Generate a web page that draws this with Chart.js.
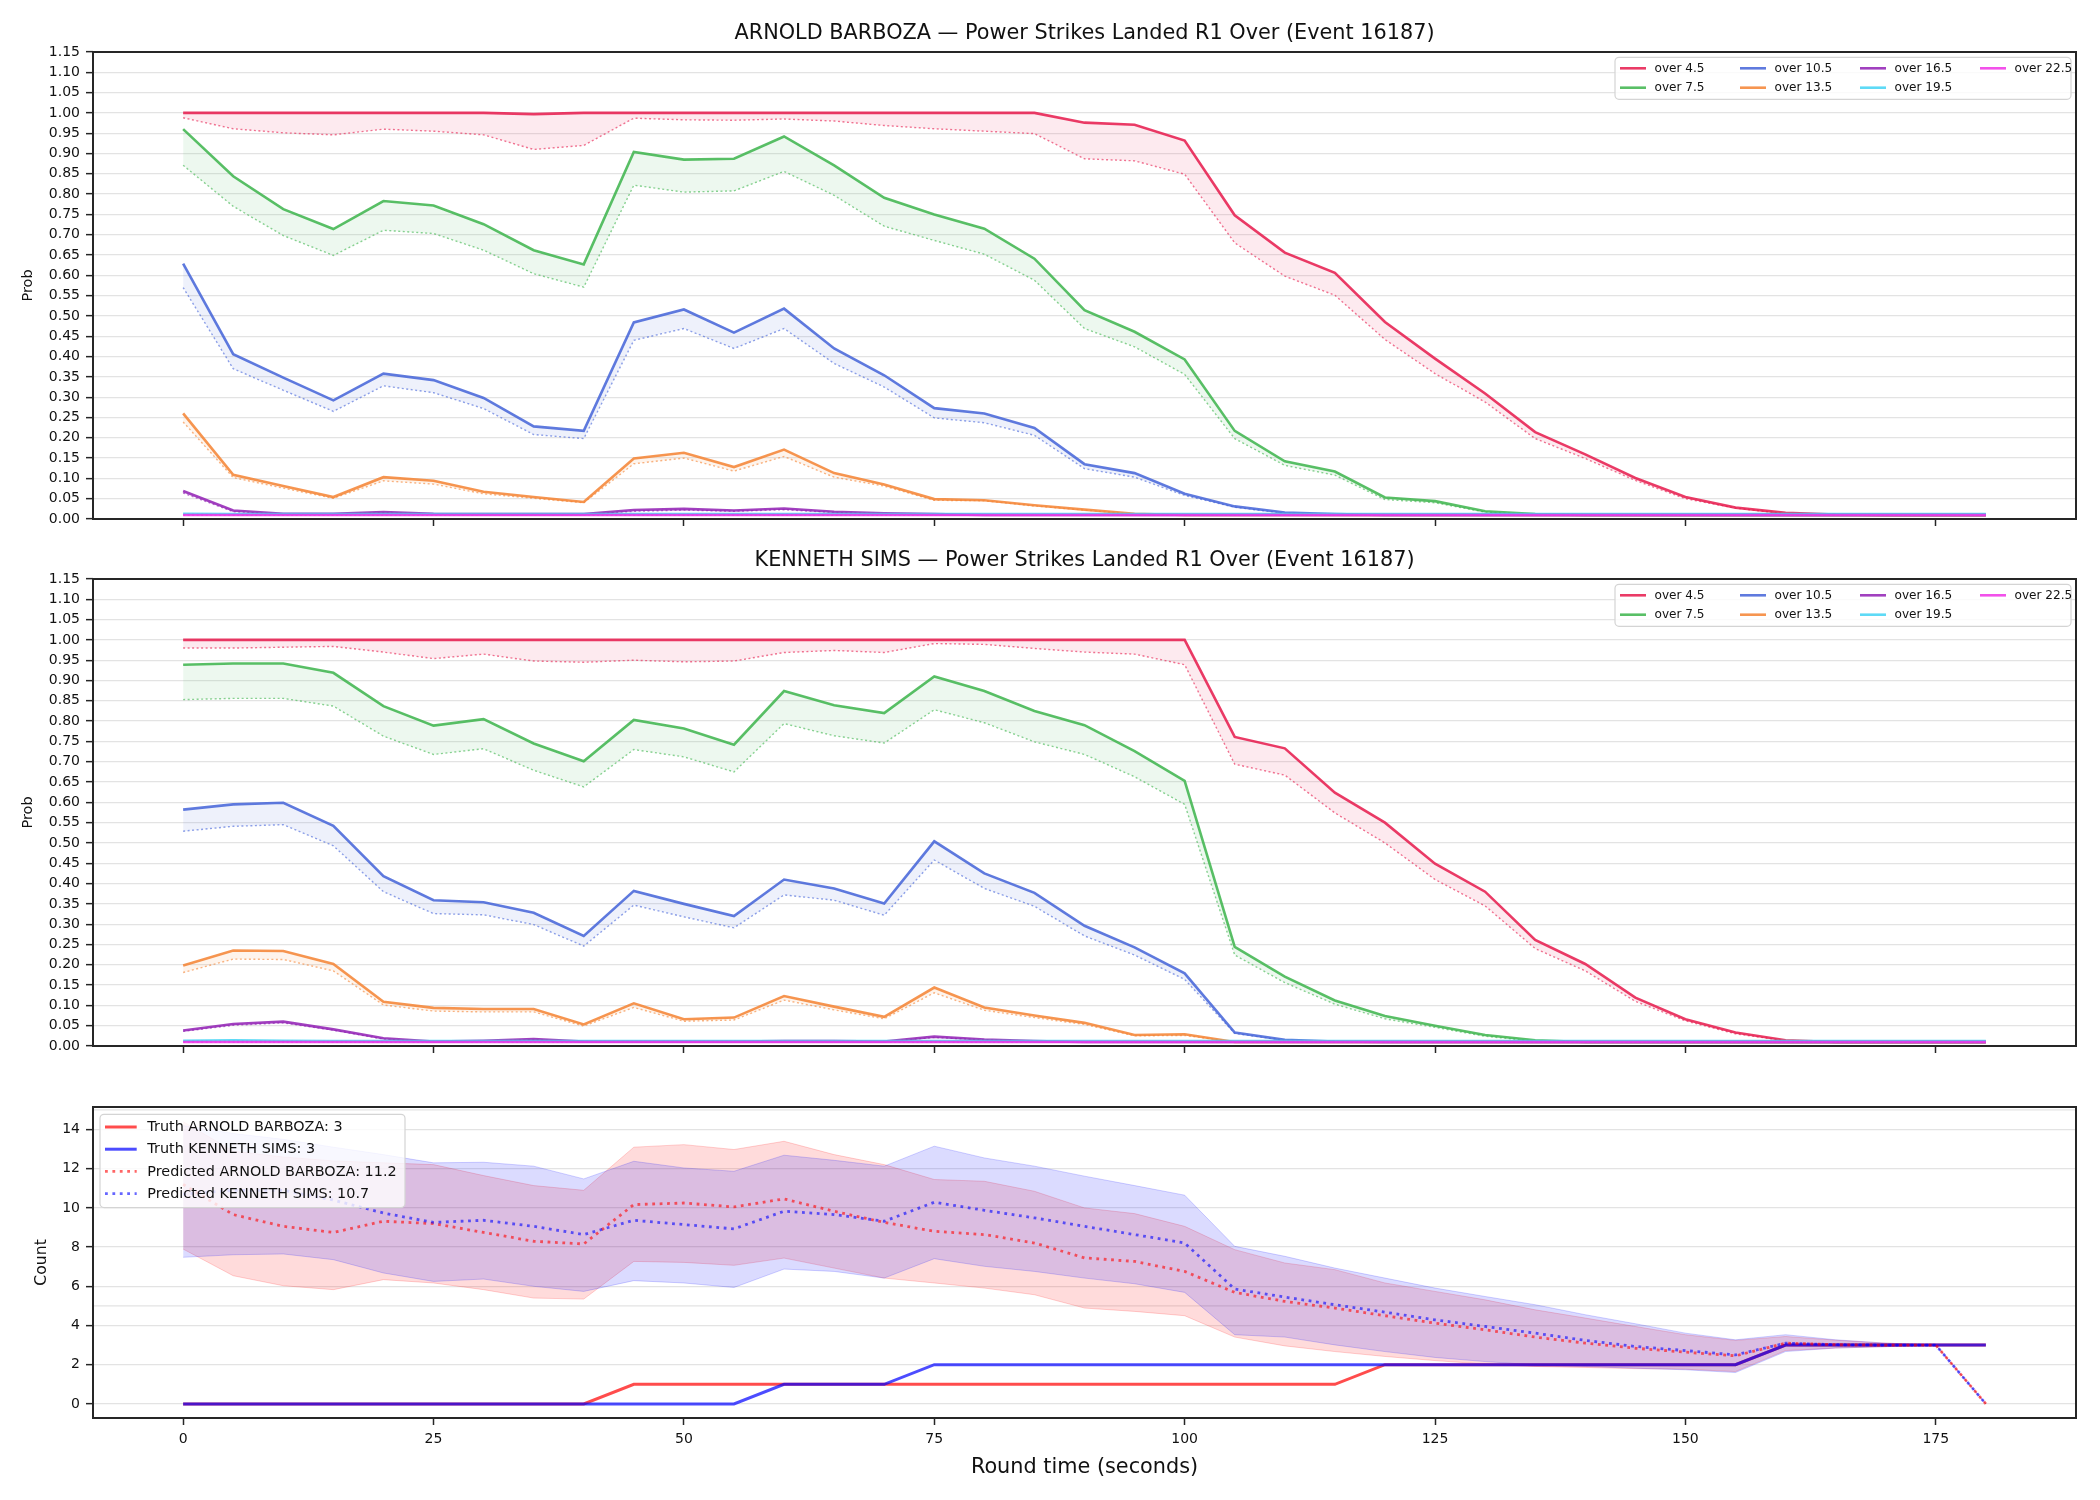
<!DOCTYPE html>
<html>
<head>
<meta charset="utf-8">
<script src="https://cdn.jsdelivr.net/npm/chart.js@4.4.1/dist/chart.umd.min.js"></script>
<style>
  body { margin: 0; background: #fff; }
  #wrap { position: relative; width: 2100px; height: 1500px; }
  canvas { position: absolute; left: 0; }
</style>
</head>
<body>
<div id="wrap">
  <canvas id="c1" width="2100" height="540" style="top:0px"></canvas>
  <canvas id="c2" width="2100" height="550" style="top:540px"></canvas>
  <canvas id="c3" width="2100" height="410" style="top:1090px"></canvas>
</div>
<script>
/* ---------------- DATA ---------------- */
const times = [0, 5, 10, 15, 20, 25, 30, 35, 40, 45, 50, 55, 60, 65, 70, 75, 80, 85, 90,
  95, 100, 105, 110, 115, 120, 125, 130, 135, 140, 145, 150, 155, 160, 165, 170, 175, 180];
const xTicks = [0, 25, 50, 75, 100, 125, 150, 175];
const probTicks = [0, 0.05, 0.10, 0.15, 0.20, 0.25, 0.30, 0.35, 0.40, 0.45, 0.50, 0.55,
  0.60, 0.65, 0.70, 0.75, 0.80, 0.85, 0.90, 0.95, 1.00, 1.05, 1.10, 1.15];
const countTicks = [0, 2, 4, 6, 8, 10, 12, 14];

const thresholds = ["over 4.5", "over 7.5", "over 10.5", "over 13.5", "over 16.5", "over 19.5", "over 22.5"];
const lineColors = ["#e6194b", "#3cb44b", "#4363d8", "#f58231", "#911eb4", "#42d4f4", "#f032e6"];

// ARNOLD BARBOZA - solid (market) and dotted (model)
const a45  = [1.00, 1.00, 1.00, 1.00, 1.00, 1.00, 1.00, 0.997, 1.00, 1.00, 1.00, 1.00, 1.00, 1.00, 1.00, 1.00, 1.00, 1.00, 0.976, 0.971, 0.932, 0.748, 0.656, 0.606, 0.485, 0.395, 0.309, 0.214, 0.159, 0.101, 0.054, 0.028, 0.015, 0.011, 0.01, 0.01, 0.01];
const a45p = [0.988, 0.961, 0.951, 0.946, 0.960, 0.955, 0.946, 0.910, 0.920, 0.987, 0.983, 0.982, 0.985, 0.980, 0.969, 0.961, 0.955, 0.949, 0.887, 0.882, 0.849, 0.680, 0.598, 0.551, 0.442, 0.358, 0.288, 0.198, 0.149, 0.095, 0.050, 0.027, 0.013, 0.01, 0.01, 0.01, 0.01];
const a75  = [0.960, 0.844, 0.763, 0.714, 0.783, 0.772, 0.726, 0.662, 0.627, 0.904, 0.885, 0.887, 0.942, 0.871, 0.791, 0.750, 0.715, 0.641, 0.514, 0.461, 0.393, 0.217, 0.142, 0.117, 0.053, 0.044, 0.019, 0.012, 0.01, 0.01, 0.01, 0.01, 0.01, 0.01, 0.01, 0.01, 0.01];
const a75p = [0.871, 0.770, 0.698, 0.649, 0.711, 0.703, 0.662, 0.604, 0.571, 0.822, 0.805, 0.808, 0.856, 0.797, 0.721, 0.686, 0.652, 0.588, 0.469, 0.424, 0.356, 0.198, 0.132, 0.108, 0.048, 0.040, 0.017, 0.011, 0.01, 0.01, 0.01, 0.01, 0.01, 0.01, 0.01, 0.01, 0.01];
const a105  = [0.629, 0.406, 0.348, 0.292, 0.358, 0.342, 0.298, 0.228, 0.217, 0.484, 0.516, 0.459, 0.518, 0.420, 0.354, 0.273, 0.260, 0.224, 0.135, 0.113, 0.062, 0.031, 0.016, 0.012, 0.01, 0.01, 0.01, 0.01, 0.01, 0.01, 0.01, 0.01, 0.01, 0.01, 0.01, 0.01, 0.01];
const a105p = [0.570, 0.370, 0.317, 0.265, 0.328, 0.311, 0.272, 0.208, 0.198, 0.440, 0.469, 0.420, 0.469, 0.383, 0.325, 0.249, 0.237, 0.206, 0.124, 0.103, 0.058, 0.029, 0.014, 0.011, 0.01, 0.01, 0.01, 0.01, 0.01, 0.01, 0.01, 0.01, 0.01, 0.01, 0.01, 0.01, 0.01];
const a135  = [0.260, 0.109, 0.081, 0.054, 0.103, 0.094, 0.067, 0.054, 0.042, 0.149, 0.163, 0.128, 0.171, 0.113, 0.085, 0.049, 0.046, 0.034, 0.023, 0.013, 0.01, 0.01, 0.01, 0.01, 0.01, 0.01, 0.01, 0.01, 0.01, 0.01, 0.01, 0.01, 0.01, 0.01, 0.01, 0.01, 0.01];
const a135p = [0.239, 0.102, 0.076, 0.051, 0.094, 0.086, 0.062, 0.051, 0.040, 0.136, 0.150, 0.118, 0.154, 0.103, 0.081, 0.046, 0.045, 0.032, 0.022, 0.012, 0.01, 0.01, 0.01, 0.01, 0.01, 0.01, 0.01, 0.01, 0.01, 0.01, 0.01, 0.01, 0.01, 0.01, 0.01, 0.01, 0.01];
const a165  = [0.069, 0.021, 0.013, 0.013, 0.017, 0.013, 0.012, 0.012, 0.012, 0.022, 0.025, 0.021, 0.026, 0.018, 0.014, 0.012, 0.01, 0.01, 0.01, 0.01, 0.01, 0.01, 0.01, 0.01, 0.01, 0.01, 0.01, 0.01, 0.01, 0.01, 0.01, 0.01, 0.01, 0.01, 0.01, 0.01, 0.01];
const a165p = [0.064, 0.018, 0.012, 0.012, 0.015, 0.012, 0.011, 0.011, 0.011, 0.019, 0.022, 0.019, 0.023, 0.016, 0.013, 0.011, 0.01, 0.01, 0.01, 0.01, 0.01, 0.01, 0.01, 0.01, 0.01, 0.01, 0.01, 0.01, 0.01, 0.01, 0.01, 0.01, 0.01, 0.01, 0.01, 0.01, 0.01];
const a195  = [0.013, 0.012, 0.012, 0.012, 0.012, 0.012, 0.012, 0.012, 0.012, 0.012, 0.012, 0.012, 0.012, 0.012, 0.012, 0.012, 0.012, 0.012, 0.012, 0.012, 0.012, 0.012, 0.012, 0.012, 0.012, 0.012, 0.012, 0.012, 0.012, 0.012, 0.012, 0.012, 0.012, 0.012, 0.012, 0.012, 0.012];
const a195p = [0.012, 0.011, 0.011, 0.011, 0.011, 0.011, 0.011, 0.011, 0.011, 0.011, 0.011, 0.011, 0.011, 0.011, 0.011, 0.011, 0.011, 0.011, 0.011, 0.011, 0.011, 0.011, 0.011, 0.011, 0.011, 0.011, 0.011, 0.011, 0.011, 0.011, 0.011, 0.011, 0.011, 0.011, 0.011, 0.011, 0.011];
const a225  = [0.01, 0.01, 0.01, 0.01, 0.01, 0.01, 0.01, 0.01, 0.01, 0.01, 0.01, 0.01, 0.01, 0.01, 0.01, 0.01, 0.01, 0.01, 0.01, 0.01, 0.01, 0.01, 0.01, 0.01, 0.01, 0.01, 0.01, 0.01, 0.01, 0.01, 0.01, 0.01, 0.01, 0.01, 0.01, 0.01, 0.01];
const a225p = [0.009, 0.009, 0.009, 0.009, 0.009, 0.009, 0.009, 0.009, 0.009, 0.009, 0.009, 0.009, 0.009, 0.009, 0.009, 0.009, 0.009, 0.009, 0.009, 0.009, 0.009, 0.009, 0.009, 0.009, 0.009, 0.009, 0.009, 0.009, 0.009, 0.009, 0.009, 0.009, 0.009, 0.009, 0.009, 0.009, 0.009];

// KENNETH SIMS
const k45  = [1.00, 1.00, 1.00, 1.00, 1.00, 1.00, 1.00, 1.00, 1.00, 1.00, 1.00, 1.00, 1.00, 1.00, 1.00, 1.00, 1.00, 1.00, 1.00, 1.00, 1.00, 0.761, 0.733, 0.624, 0.550, 0.449, 0.380, 0.261, 0.202, 0.119, 0.066, 0.033, 0.014, 0.01, 0.01, 0.01, 0.01];
const k45p = [0.980, 0.980, 0.982, 0.984, 0.970, 0.954, 0.965, 0.948, 0.945, 0.950, 0.946, 0.948, 0.969, 0.974, 0.969, 0.991, 0.989, 0.979, 0.970, 0.965, 0.939, 0.694, 0.667, 0.574, 0.500, 0.410, 0.345, 0.240, 0.185, 0.110, 0.062, 0.030, 0.013, 0.01, 0.01, 0.01, 0.01];
const k75  = [0.939, 0.942, 0.942, 0.919, 0.837, 0.789, 0.805, 0.745, 0.701, 0.803, 0.782, 0.742, 0.874, 0.839, 0.820, 0.910, 0.874, 0.825, 0.790, 0.726, 0.653, 0.244, 0.171, 0.112, 0.074, 0.050, 0.027, 0.014, 0.01, 0.01, 0.01, 0.01, 0.01, 0.01, 0.01, 0.01, 0.01];
const k75p = [0.853, 0.856, 0.856, 0.837, 0.763, 0.718, 0.732, 0.679, 0.638, 0.730, 0.712, 0.675, 0.794, 0.764, 0.746, 0.828, 0.796, 0.749, 0.718, 0.663, 0.595, 0.224, 0.156, 0.103, 0.067, 0.046, 0.024, 0.012, 0.01, 0.01, 0.01, 0.01, 0.01, 0.01, 0.01, 0.01, 0.01];
const k105  = [0.582, 0.595, 0.599, 0.542, 0.418, 0.359, 0.354, 0.328, 0.271, 0.382, 0.350, 0.320, 0.410, 0.388, 0.351, 0.504, 0.425, 0.377, 0.296, 0.243, 0.179, 0.033, 0.015, 0.011, 0.01, 0.01, 0.01, 0.01, 0.01, 0.01, 0.01, 0.01, 0.01, 0.01, 0.01, 0.01, 0.01];
const k105p = [0.529, 0.541, 0.545, 0.493, 0.380, 0.326, 0.323, 0.299, 0.246, 0.347, 0.318, 0.291, 0.372, 0.359, 0.322, 0.458, 0.388, 0.344, 0.271, 0.224, 0.164, 0.031, 0.014, 0.011, 0.01, 0.01, 0.01, 0.01, 0.01, 0.01, 0.01, 0.01, 0.01, 0.01, 0.01, 0.01, 0.01];
const k135  = [0.198, 0.235, 0.234, 0.202, 0.109, 0.094, 0.091, 0.091, 0.053, 0.105, 0.066, 0.070, 0.123, 0.097, 0.072, 0.144, 0.095, 0.075, 0.057, 0.027, 0.029, 0.01, 0.01, 0.01, 0.01, 0.01, 0.01, 0.01, 0.01, 0.01, 0.01, 0.01, 0.01, 0.01, 0.01, 0.01, 0.01];
const k135p = [0.181, 0.214, 0.213, 0.185, 0.101, 0.086, 0.084, 0.084, 0.049, 0.095, 0.061, 0.064, 0.113, 0.089, 0.067, 0.131, 0.088, 0.070, 0.053, 0.025, 0.026, 0.01, 0.01, 0.01, 0.01, 0.01, 0.01, 0.01, 0.01, 0.01, 0.01, 0.01, 0.01, 0.01, 0.01, 0.01, 0.01];
const k165  = [0.038, 0.054, 0.060, 0.041, 0.019, 0.011, 0.013, 0.017, 0.011, 0.011, 0.011, 0.011, 0.012, 0.012, 0.011, 0.023, 0.016, 0.012, 0.01, 0.01, 0.01, 0.01, 0.01, 0.01, 0.01, 0.01, 0.01, 0.01, 0.01, 0.01, 0.01, 0.01, 0.01, 0.01, 0.01, 0.01, 0.01];
const k165p = [0.036, 0.051, 0.057, 0.039, 0.017, 0.010, 0.012, 0.015, 0.010, 0.010, 0.010, 0.010, 0.011, 0.011, 0.010, 0.021, 0.015, 0.011, 0.01, 0.01, 0.01, 0.01, 0.01, 0.01, 0.01, 0.01, 0.01, 0.01, 0.01, 0.01, 0.01, 0.01, 0.01, 0.01, 0.01, 0.01, 0.01];
const k195  = [0.013, 0.014, 0.013, 0.012, 0.012, 0.012, 0.012, 0.012, 0.012, 0.012, 0.012, 0.012, 0.012, 0.012, 0.012, 0.012, 0.012, 0.012, 0.012, 0.012, 0.012, 0.012, 0.012, 0.012, 0.012, 0.012, 0.012, 0.012, 0.012, 0.012, 0.012, 0.012, 0.012, 0.012, 0.012, 0.012, 0.012];
const k195p = [0.012, 0.013, 0.012, 0.011, 0.011, 0.011, 0.011, 0.011, 0.011, 0.011, 0.011, 0.011, 0.011, 0.011, 0.011, 0.011, 0.011, 0.011, 0.011, 0.011, 0.011, 0.011, 0.011, 0.011, 0.011, 0.011, 0.011, 0.011, 0.011, 0.011, 0.011, 0.011, 0.011, 0.011, 0.011, 0.011, 0.011];
const k225  = a225;
const k225p = a225p;

// counts
const truthA = [0, 0, 0, 0, 0, 0, 0, 0, 0, 1, 1, 1, 1, 1, 1, 1, 1, 1, 1, 1, 1, 1, 1, 1, 2, 2, 2, 2, 2, 2, 2, 2, 3, 3, 3, 3, 3];
const truthK = [0, 0, 0, 0, 0, 0, 0, 0, 0, 0, 0, 0, 1, 1, 1, 2, 2, 2, 2, 2, 2, 2, 2, 2, 2, 2, 2, 2, 2, 2, 2, 2, 3, 3, 3, 3, 3];
const predA = [11.2, 9.66, 9.06, 8.75, 9.32, 9.20, 8.75, 8.30, 8.16, 10.17, 10.25, 10.05, 10.46, 9.83, 9.26, 8.81, 8.64, 8.21, 7.45, 7.27, 6.76, 5.69, 5.23, 4.89, 4.50, 4.12, 3.78, 3.41, 3.10, 2.84, 2.64, 2.45, 3.10, 3.02, 3.0, 3.0, 0];
const predK = [10.7, 10.9, 10.9, 10.4, 9.74, 9.26, 9.37, 9.06, 8.64, 9.37, 9.15, 8.93, 9.83, 9.66, 9.32, 10.29, 9.88, 9.49, 9.06, 8.64, 8.21, 5.86, 5.45, 5.06, 4.68, 4.29, 3.95, 3.61, 3.24, 2.93, 2.72, 2.50, 3.10, 3.02, 3.0, 3.0, 0];
const hiA = [14.4, 12.9, 12.6, 12.4, 12.3, 12.21, 11.65, 11.14, 10.90, 13.10, 13.23, 12.98, 13.40, 12.72, 12.21, 11.45, 11.36, 10.85, 10.00, 9.71, 9.06, 7.87, 7.19, 6.85, 6.17, 5.74, 5.31, 4.80, 4.38, 3.95, 3.53, 3.24, 3.44, 3.25, 3.10, 3.0, 0];
const loA = [7.90, 6.54, 6.03, 5.83, 6.34, 6.17, 5.83, 5.40, 5.35, 7.27, 7.22, 7.07, 7.44, 6.93, 6.42, 6.17, 5.91, 5.57, 4.89, 4.72, 4.50, 3.41, 2.96, 2.67, 2.42, 2.21, 2.03, 1.91, 1.86, 1.80, 1.77, 1.65, 2.72, 2.85, 2.92, 3.0, 0];
const hiK = [14.2, 13.8, 13.5, 13.1, 12.72, 12.30, 12.33, 12.13, 11.48, 12.38, 12.04, 11.87, 12.69, 12.43, 12.13, 13.15, 12.55, 12.13, 11.62, 11.14, 10.65, 8.04, 7.53, 6.93, 6.42, 5.91, 5.48, 5.06, 4.55, 4.09, 3.61, 3.27, 3.53, 3.27, 3.10, 3.01, 0];
const loK = [7.48, 7.61, 7.65, 7.36, 6.68, 6.25, 6.37, 6.00, 5.74, 6.29, 6.17, 5.94, 6.88, 6.76, 6.42, 7.41, 7.02, 6.76, 6.42, 6.13, 5.69, 3.53, 3.41, 3.01, 2.67, 2.37, 2.16, 1.99, 1.91, 1.82, 1.74, 1.60, 2.67, 2.85, 2.92, 3.0, 0];

/* ---------------- HELPERS ---------------- */
Chart.defaults.font.family = "'DejaVu Sans', sans-serif";
Chart.defaults.color = "#222";
Chart.defaults.animation = false;

const FONT = '"DejaVu Sans", sans-serif';
const gridColor = "rgba(0,0,0,0.11)";

function rgba(hex, a) {
  const n = parseInt(hex.slice(1), 16);
  return `rgba(${n >> 16}, ${(n >> 8) & 255}, ${n & 255}, ${a})`;
}
function pts(arr) {
  return arr.map((v, i) => ({ x: times[i], y: v }));
}

/* frame, titles, labels, legends */
const decor = {
  id: "decor",
  beforeDatasetsDraw(chart, args, o) {
    if (!o.extraGrid) return;
    const { ctx, chartArea: a, scales: { y } } = chart;
    ctx.save();
    ctx.strokeStyle = gridColor;
    ctx.lineWidth = 1.3;
    o.extraGrid.forEach(v => {
      const py = y.getPixelForValue(v);
      ctx.beginPath();
      ctx.moveTo(a.left, py);
      ctx.lineTo(a.right, py);
      ctx.stroke();
    });
    ctx.restore();
  },
  afterDraw(chart, args, o) {
    const { ctx, chartArea: a } = chart;
    ctx.save();
    ctx.strokeStyle = "#262626";
    ctx.lineWidth = 2;
    ctx.strokeRect(a.left, a.top, a.right - a.left, a.bottom - a.top);

    ctx.fillStyle = "#111";
    ctx.textAlign = "center";
    ctx.textBaseline = "middle";
    if (o.title) {
      ctx.font = "20.8px " + FONT;
      ctx.fillText(o.title, (a.left + a.right) / 2, a.top - 18);
    }
    if (o.xLabel) {
      ctx.font = "20.8px " + FONT;
      ctx.fillText(o.xLabel, (a.left + a.right) / 2, a.bottom + 50);
    }
    if (o.yLabel) {
      ctx.save();
      ctx.translate(o.yLabelX, (a.top + a.bottom) / 2);
      ctx.rotate(-Math.PI / 2);
      ctx.font = o.yLabelSize + "px " + FONT;
      ctx.fillText(o.yLabel, 0, 0);
      ctx.restore();
    }

    const lg = o.legend;
    if (lg) {
      const bx = lg.right ? a.right - lg.dx - lg.w : a.left + lg.dx;
      const by = a.top + lg.dy;
      ctx.beginPath();
      if (ctx.roundRect) ctx.roundRect(bx, by, lg.w, lg.h, 4);
      else ctx.rect(bx, by, lg.w, lg.h);
      ctx.fillStyle = "rgba(255,255,255,0.8)";
      ctx.fill();
      ctx.strokeStyle = "#d4d4d4";
      ctx.lineWidth = 1.2;
      ctx.stroke();

      ctx.font = lg.font + "px " + FONT;
      ctx.textAlign = "left";
      lg.items.forEach((it, i) => {
        const col = Math.floor(i / lg.rows);
        const row = i % lg.rows;
        const hx = bx + lg.padX + col * lg.colW;
        const hy = by + lg.padY + row * lg.rowH;
        ctx.beginPath();
        ctx.strokeStyle = it.color;
        ctx.lineWidth = it.width;
        ctx.setLineDash(it.dash || []);
        ctx.moveTo(hx, hy);
        ctx.lineTo(hx + lg.handle, hy);
        ctx.stroke();
        ctx.setLineDash([]);
        ctx.fillStyle = "#111";
        ctx.fillText(it.text, hx + lg.textDx, hy + 0.5);
      });
    }
    ctx.restore();
  }
};

/* ---------------- PROBABILITY PANELS ---------------- */
function probChart(id, title, solid, dotted, padTop, xHeight) {
  const n = thresholds.length;
  const datasets = [];
  thresholds.forEach((name, k) => {
    datasets.push({
      label: name,
      data: pts(solid[k]),
      borderColor: rgba(lineColors[k], 0.85),
      borderWidth: 2.6,
      pointRadius: 0,
      fill: false,
      order: 2 * (n - k)
    });
    datasets.push({
      label: name + " model",
      data: pts(dotted[k]),
      borderColor: rgba(lineColors[k], 0.6),
      borderWidth: 1.4,
      borderDash: [2, 2.5],
      pointRadius: 0,
      fill: { target: 2 * k },
      backgroundColor: rgba(lineColors[k], 0.09),
      order: 2 * (n - k) + 1
    });
  });

  new Chart(document.getElementById(id), {
    type: "line",
    data: { datasets },
    options: {
      responsive: false,
      layout: { padding: { left: 0, right: 24, top: padTop, bottom: 0 } },
      plugins: {
        legend: { display: false },
        tooltip: { enabled: false },
        decor: {
          title,
          yLabel: "Prob",
          yLabelX: 28,
          yLabelSize: 14.5,
          legend: {
            right: true, dx: 5, dy: 5.3, w: 456, h: 42,
            rows: 2, colW: 120, rowH: 19.4, padX: 5, padY: 11,
            handle: 26, textDx: 34.5, font: 12.1,
            items: thresholds.map((t, k) => ({ text: t, color: rgba(lineColors[k], 0.85), width: 2.6 }))
          }
        }
      },
      scales: {
        x: {
          type: "linear", min: -9, max: 189,
          afterBuildTicks: s => { s.ticks = xTicks.map(v => ({ value: v })); },
          afterFit: s => { s.height = xHeight; },
          ticks: { display: false },
          grid: { drawOnChartArea: false, tickColor: "#262626", tickLength: 7, tickWidth: 1.5 },
          border: { display: false }
        },
        y: {
          min: 0, max: 1.15,
          afterBuildTicks: s => { s.ticks = probTicks.map(v => ({ value: v })); },
          afterFit: s => { s.width = 93; },
          ticks: { callback: v => v.toFixed(2), font: { size: 14 }, padding: 6, color: "#111" },
          grid: { color: gridColor, lineWidth: 1.3, tickColor: "#262626", tickLength: 7, tickWidth: 1.5 },
          border: { display: false }
        }
      }
    },
    plugins: [decor]
  });
}

probChart("c1", "ARNOLD BARBOZA \u2014 Power Strikes Landed R1 Over (Event 16187)",
  [a45, a75, a105, a135, a165, a195, a225],
  [a45p, a75p, a105p, a135p, a165p, a195p, a225p], 52, 21);

probChart("c2", "KENNETH SIMS \u2014 Power Strikes Landed R1 Over (Event 16187)",
  [k45, k75, k105, k135, k165, k195, k225],
  [k45p, k75p, k105p, k135p, k165p, k195p, k225p], 39, 44);

/* ---------------- COUNT PANEL ---------------- */
const RED = "#ff0000";
const BLUE = "#0000ff";

new Chart(document.getElementById("c3"), {
  type: "line",
  data: {
    datasets: [
      { label: "hiA", data: pts(hiA), borderColor: rgba(RED, 0.18), borderWidth: 1, pointRadius: 0, fill: false, order: 10 },
      { label: "loA", data: pts(loA), borderColor: rgba(RED, 0.18), borderWidth: 1, pointRadius: 0,
        fill: { target: 0 }, backgroundColor: rgba(RED, 0.14), order: 9 },
      { label: "hiK", data: pts(hiK), borderColor: rgba(BLUE, 0.18), borderWidth: 1, pointRadius: 0, fill: false, order: 8 },
      { label: "loK", data: pts(loK), borderColor: rgba(BLUE, 0.18), borderWidth: 1, pointRadius: 0,
        fill: { target: 2 }, backgroundColor: rgba(BLUE, 0.14), order: 7 },
      { label: "Truth ARNOLD BARBOZA: 3", data: pts(truthA), borderColor: rgba(RED, 0.7), borderWidth: 3, pointRadius: 0, order: 4 },
      { label: "Truth KENNETH SIMS: 3", data: pts(truthK), borderColor: rgba(BLUE, 0.7), borderWidth: 3, pointRadius: 0, order: 3 },
      { label: "Predicted ARNOLD BARBOZA: 11.2", data: pts(predA), borderColor: rgba(RED, 0.6), borderWidth: 2.8,
        borderDash: [2.8, 4.6], pointRadius: 0, order: 2 },
      { label: "Predicted KENNETH SIMS: 10.7", data: pts(predK), borderColor: rgba(BLUE, 0.6), borderWidth: 2.8,
        borderDash: [2.8, 4.6], pointRadius: 0, order: 1 }
    ]
  },
  options: {
    responsive: false,
    layout: { padding: { left: 0, right: 24, top: 17, bottom: 0 } },
    plugins: {
      legend: { display: false },
      tooltip: { enabled: false },
      decor: {
        xLabel: "Round time (seconds)",
        yLabel: "Count",
        yLabelX: 41.7,
        yLabelSize: 15.7,
        extraGrid: [5, 15],
        legend: {
          right: false, dx: 7, dy: 7.3, w: 305, h: 93.3,
          rows: 4, colW: 0, rowH: 22.2, padX: 5, padY: 12.7,
          handle: 31.7, textDx: 42.3, font: 14.4,
          items: [
            { text: "Truth ARNOLD BARBOZA: 3", color: rgba(RED, 0.7), width: 3 },
            { text: "Truth KENNETH SIMS: 3", color: rgba(BLUE, 0.7), width: 3 },
            { text: "Predicted ARNOLD BARBOZA: 11.2", color: rgba(RED, 0.6), width: 2.8, dash: [2.8, 4.6] },
            { text: "Predicted KENNETH SIMS: 10.7", color: rgba(BLUE, 0.6), width: 2.8, dash: [2.8, 4.6] }
          ]
        }
      }
    },
    scales: {
      x: {
        type: "linear", min: -9, max: 189,
        afterBuildTicks: s => { s.ticks = xTicks.map(v => ({ value: v })); },
        afterFit: s => { s.height = 82; },
        ticks: { callback: v => v, font: { size: 14 }, padding: 6, color: "#111", maxRotation: 0 },
        grid: { drawOnChartArea: false, tickColor: "#262626", tickLength: 7, tickWidth: 1.5 },
        border: { display: false }
      },
      y: {
        min: -0.72, max: 15.15,
        afterBuildTicks: s => { s.ticks = countTicks.map(v => ({ value: v })); },
        afterFit: s => { s.width = 93; },
        ticks: { callback: v => v, font: { size: 14 }, padding: 6, color: "#111" },
        grid: { color: gridColor, lineWidth: 1.3, tickColor: "#262626", tickLength: 7, tickWidth: 1.5 },
        border: { display: false }
      }
    }
  },
  plugins: [decor]
});
</script>
</body>
</html>
